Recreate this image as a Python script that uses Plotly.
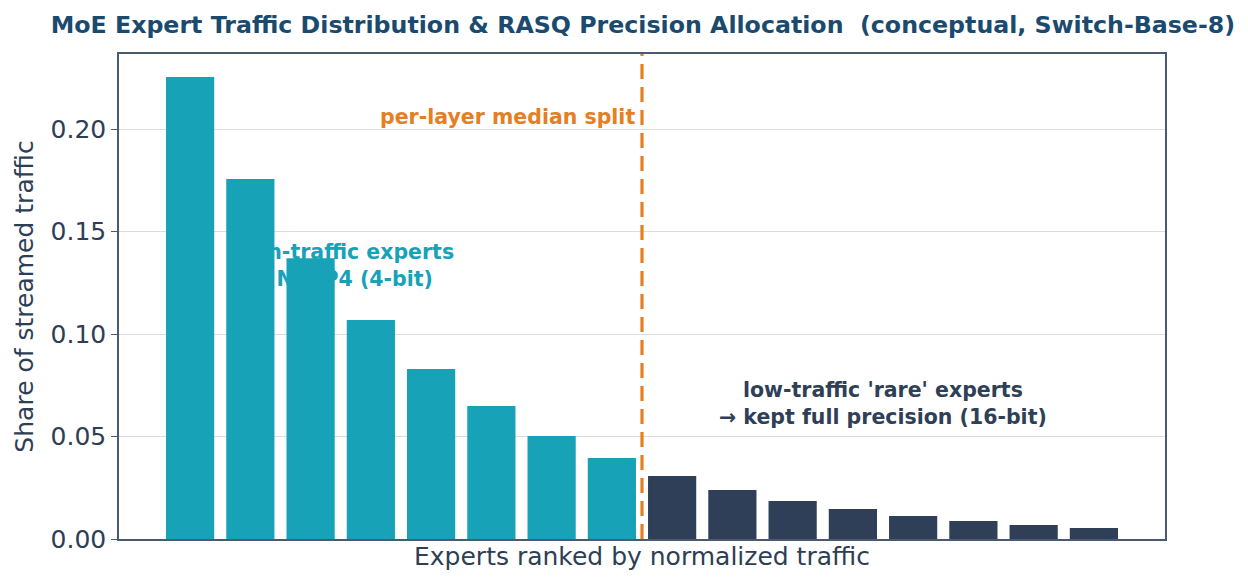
import plotly.graph_objects as go

# conceptual per-expert traffic share, sorted high -> low
ranks = list(range(16))
traffic = [0.2254, 0.1756, 0.1370, 0.1068, 0.0829, 0.0649, 0.0502, 0.0395,
           0.0307, 0.0239, 0.0185, 0.0146, 0.0112, 0.0088, 0.0068, 0.0054]
n_high = 8
split_at = 7.5

teal = "#17a2b8"
navy = "#2e3f57"
orange = "#e67e22"
ink = "#2e3e55"

colors = [teal] * n_high + [navy] * (len(traffic) - n_high)

fig = go.Figure()
fig.add_trace(go.Bar(x=ranks, y=traffic, marker_color=colors, marker_line_width=0,
                     width=0.8, showlegend=False, hoverinfo="skip"))

font_b = "DejaVu Sans"
# teal label sits behind the bars, so draw it as a below-layer shape label
fig.add_shape(type="rect", xref="x", yref="y", x0=2.03, x1=3.03, y0=0.131, y1=0.137,
              layer="below", line_width=0, fillcolor="rgba(0,0,0,0)",
              label=dict(text="<b>high-traffic experts<br>→ NVFP4 (4-bit)</b>",
                         textposition="middle center",
                         font=dict(family=font_b, size=20.5, color=teal)))

fig.add_shape(type="line", xref="x", yref="paper", x0=split_at, x1=split_at, y0=0, y1=1,
              line=dict(color=orange, width=3.2, dash="15px,8px"))

fig.add_annotation(x=7.42, y=0.206, xref="x", yref="y", xanchor="right", yanchor="middle",
                   text="<b>per-layer median split</b>", showarrow=False,
                   font=dict(family=font_b, size=20.5, color=orange))
fig.add_annotation(x=11.5, y=0.066, xref="x", yref="y", xanchor="center", yanchor="middle",
                   text="<b>low-traffic 'rare' experts<br>→ kept full precision (16-bit)</b>",
                   showarrow=False, align="center",
                   font=dict(family=font_b, size=20.5, color=navy))

fig.update_layout(
    width=1240, height=579,
    margin=dict(l=111, r=83, t=46, b=48),
    paper_bgcolor="white", plot_bgcolor="white",
    font=dict(family="DejaVu Sans", color=ink),
    title=dict(text="<b>MoE Expert Traffic Distribution & RASQ Precision Allocation  (conceptual, Switch-Base-8)</b>",
               x=0.512, xanchor="center", y=0.971, yanchor="middle",
               font=dict(family=font_b, size=23.7, color="#1a4a6e")),
    xaxis=dict(range=[-1.18, 16.18], showticklabels=False, ticks="", showgrid=False,
               zeroline=False, showline=True, linecolor="#4a5a70", linewidth=1.5, mirror=True,
               title=dict(text="Experts ranked by normalized traffic", standoff=8,
                          font=dict(size=25, color=ink))),
    yaxis=dict(range=[0, 0.2366], tickvals=[0, 0.05, 0.10, 0.15, 0.20], tickformat=".2f",
               ticks="outside", ticklen=6, tickcolor="#4a5a70", tickfont=dict(size=25, color=ink),
               showgrid=True, gridcolor="#dcdcdc", gridwidth=1, zeroline=False,
               showline=True, linecolor="#4a5a70", linewidth=1.5, mirror=True,
               title=dict(text="Share of streamed traffic", standoff=10,
                          font=dict(size=25, color=ink))),
)

fig.write_html("out.html")
